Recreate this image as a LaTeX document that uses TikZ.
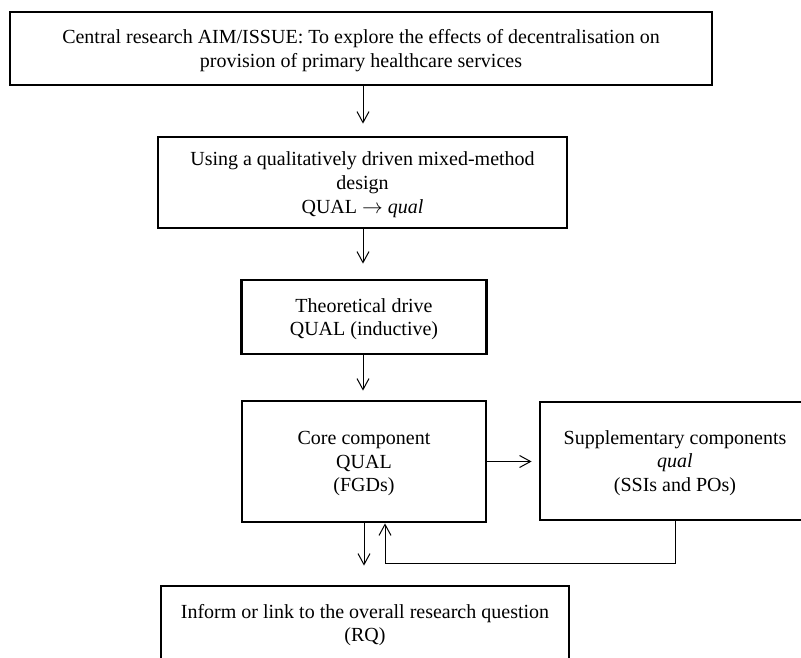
\documentclass[tikz,border=0pt]{standalone}
\usepackage{fontspec}
\setmainfont{Liberation Serif}
\usetikzlibrary{arrows.meta}
\begin{document}
\begin{tikzpicture}[x=1pt,y=-1pt,
  box/.style={draw, line width=2.8pt, rectangle, inner sep=0pt, align=center,
    font=\fontsize{20}{23.8}\selectfont, text depth=0pt},
  arr/.style={line width=1pt, -{Straight Barb[length=11pt,width=12pt,line width=1pt]}}]
\useasboundingbox (0,0) rectangle (801,657);
\clip (0,0) rectangle (801,657);
\node[box, minimum width=702pt, minimum height=73pt] (aim) at (361,48.5)
  {Central research AIM/ISSUE: To explore the effects of decentralisation on\\provision of primary healthcare services};
\node[box, minimum width=409pt, minimum height=91pt] (design) at (362.5,182.5)
  {Using a qualitatively driven mixed-method\\design\\QUAL $\rightarrow$ \textit{qual}};
\node[box, minimum width=245pt, minimum height=74pt] (drive) at (364,317)
  {Theoretical drive\\QUAL (inductive)};
\node[box, minimum width=244pt, minimum height=121pt] (core) at (364,461.5)
  {Core component\\QUAL\\(FGDs)};
\node[box, minimum width=270pt, minimum height=118pt] (supp) at (675,461)
  {Supplementary components\\\textit{qual}\\(SSIs and POs)};
\node[box, minimum width=408pt, minimum height=74pt] (rq) at (365,623)
  {Inform or link to the overall research question\\(RQ)};
\coordinate (fb) at (385,563);
\draw[arr, shorten >=12pt] (aim.south -| 363,0) -- (design.north -| 363,0);
\draw[arr, shorten >=15pt] (design.south -| 363,0) -- (drive.north -| 363,0);
\draw[arr, shorten >=9pt] (drive.south -| 363,0) -- (core.north -| 363,0);
\draw[arr, shorten >=19pt] (core.south) -- (core.south |- rq.north);
\draw[arr, shorten >=7pt] (core.east) -- (supp.west |- core.east);
\draw[arr] (supp.south) |- (fb) -- (fb |- core.south);
\end{tikzpicture}
\end{document}
